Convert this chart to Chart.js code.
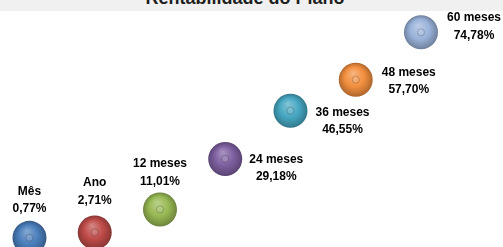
<!DOCTYPE html>
<html>
<head>
<meta charset="utf-8">
<script src="https://cdn.jsdelivr.net/npm/chart.js@4"></script>
<style>
html, body { margin: 0; padding: 0; background: #fff; overflow: hidden; }
#wrap { position: relative; width: 503px; height: 247px; }
#faixa { position: absolute; left: 0; top: 0; width: 503px; height: 11px; background: #f0f0f0; overflow: hidden; z-index: 2; }
#titulo { position: absolute; left: 0; width: 490px; top: -11px; text-align: center; font: bold 18px "Liberation Sans", Arial, sans-serif; line-height: 18px; color: #1e1e1e; white-space: nowrap; }
canvas { position: absolute; left: 0; top: 0; }
</style>
</head>
<body>
<div id="wrap">
    <canvas id="grafico" width="503" height="247"></canvas>
    <div id="faixa"><div id="titulo">Rentabilidade do Plano</div></div>
</div>
<script>
// dados do gráfico
let periodos = ['Mês', 'Ano', '12 meses', '24 meses', '36 meses', '48 meses', '60 meses'];
let rentabilidade = [0.77, 2.71, 11.01, 29.18, 46.55, 57.70, 74.78];
let cores = ['#4a7ebb', '#be4b48', '#98b954', '#7d5fa0', '#46a7c2', '#f38f3f', '#9ab3da'];

// posição dos rótulos em relação à bolha (dx, linha de base da 1a linha)
let deslocRotulo = [[0, -43], [0, -46], [0, -42], [51, 4], [52, 5], [53, -4], [53, -11]];

function Mistura(cor, outra, t) {
    let a = parseInt(cor.slice(1), 16), b = parseInt(outra.slice(1), 16);
    let r = Math.round(((a >> 16) & 255) * (1 - t) + ((b >> 16) & 255) * t);
    let g = Math.round(((a >> 8) & 255) * (1 - t) + ((b >> 8) & 255) * t);
    let bl = Math.round((a & 255) * (1 - t) + (b & 255) * t);
    return 'rgb(' + r + ',' + g + ',' + bl + ')';
}

function Esfera(context) {
    let chart = context.chart;
    let cor = cores[context.dataIndex];
    if (!chart.chartArea || !context.parsed) return cor;
    let x = chart.scales.x.getPixelForValue(context.parsed.x);
    let y = chart.scales.y.getPixelForValue(context.parsed.y);
    let r = 17;
    let g = chart.ctx.createRadialGradient(x - r * 0.15, y - r * 0.4, 1, x, y, r);
    g.addColorStop(0, Mistura(cor, '#ffffff', 0.3));
    g.addColorStop(0.55, cor);
    g.addColorStop(0.88, Mistura(cor, '#000000', 0.2));
    g.addColorStop(1, Mistura(cor, '#000000', 0.3));
    return g;
}

function FormataValor(v) {
    return v.toFixed(2).replace('.', ',') + '%';
}

let pontos = rentabilidade.map(function (v, i) { return { x: i + 1, y: v }; });

let rotulos = {
    id: 'rotulos',
    afterDatasetsDraw: function (chart) {
        let meta = chart.getDatasetMeta(1);
        let c = chart.ctx;
        c.save();
        c.font = 'bold 12px "Liberation Sans", Arial, sans-serif';
        c.fillStyle = '#000';
        c.textAlign = 'center';
        c.textBaseline = 'alphabetic';
        for (let i = 0; i < meta.data.length; i++) {
            let pt = meta.data[i];
            let d = deslocRotulo[i];
            c.fillText(periodos[i], pt.x + d[0], pt.y + d[1]);
            c.fillText(FormataValor(rentabilidade[i]), pt.x + d[0], pt.y + d[1] + 17.5);
        }
        c.restore();
    }
};

new Chart(document.getElementById('grafico').getContext('2d'), {
    type: 'bubble',
    data: {
        datasets: [{
            label: 'anel',
            data: pontos,
            radius: 3.5,
            backgroundColor: 'rgba(255,255,255,0.12)',
            borderColor: 'rgba(0,0,0,0.2)',
            borderWidth: 1,
            hoverRadius: 0,
            order: 0
        }, {
            label: 'Rentabilidade',
            data: pontos,
            radius: 17,
            backgroundColor: Esfera,
            borderWidth: 0,
            hoverRadius: 0,
            order: 1
        }]
    },
    options: {
        responsive: false,
        animation: false,
        events: [],
        layout: { padding: 0, autoPadding: false },
        plugins: {
            legend: { display: false },
            tooltip: { enabled: false },
            title: { display: false }
        },
        scales: {
            x: { type: 'linear', min: 0.548, max: 8.257, display: false },
            y: { type: 'linear', min: -2.52, max: 86.42, display: false }
        }
    },
    plugins: [rotulos]
});
</script>
</body>
</html>
